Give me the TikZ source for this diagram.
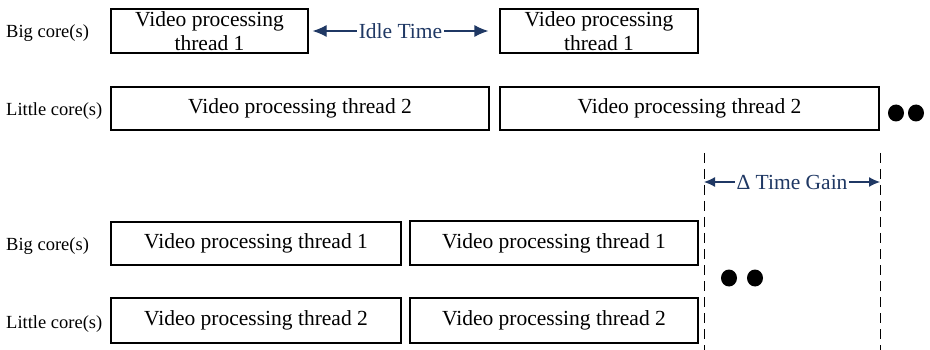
\documentclass[tikz,border=0pt]{standalone}
\usepackage{fontspec}
\setmainfont{Liberation Serif}
\usetikzlibrary{arrows.meta,shapes.geometric}
\definecolor{navy}{RGB}{31,56,100}
\begin{document}
\begin{tikzpicture}[x=1pt,y=-1pt,
  box/.style={draw, line width=1.2pt, inner sep=0pt, font=\fontsize{21.5}{24}\selectfont, align=center},
  lbl/.style={anchor=west, inner sep=0pt, font=\fontsize{18.5}{21}\selectfont},
  blackdot/.style={ellipse, fill, inner sep=0pt, minimum width=16pt, minimum height=17pt},
  navarrow/.style={draw=navy, line width=1.2pt, {Latex[length=14pt,width=12pt]}-{Latex[length=14pt,width=12pt]}},
  gainarrow/.style={draw=navy, line width=1.2pt, {Latex[length=11pt,width=10pt]}-{Latex[length=11pt,width=10pt]}},
  navtext/.style={fill=white, text=navy, inner sep=1.5pt, font=\fontsize{21.5}{24}\selectfont},
  dashline/.style={draw, line width=1pt, dash pattern=on 10pt off 6pt}
]
\useasboundingbox (0,0) rectangle (930,350);

% top section
\node[lbl] (tbig) at (6,33) {Big core(s)};
\node[lbl] (tlit) at (6,111) {Little core(s)};
\node[box, minimum width=197, minimum height=44] (tb1) at (209.5,31) {Video processing\\thread 1};
\node[box, minimum width=198, minimum height=44] (tb2) at (599,31) {Video processing\\thread 1};
\node[box, minimum width=378, minimum height=43] (tl1) at (300,108.5) {Video processing thread 2};
\node[box, minimum width=379, minimum height=43] (tl2) at (689.5,108.5) {Video processing thread 2};
\node[blackdot] (td1) at (896,113) {};
\node[blackdot] (td2) at (916,113) {};

\draw[navarrow] ([xshift=4pt]tb1.east) -- node[navtext] (idle) {Idle Time} ([xshift=-11pt]tb2.west);

% dashed markers
\coordinate (d1t) at (704,153);
\coordinate (d1b) at (704,350);
\coordinate (d2t) at (880,153);
\coordinate (d2b) at (880,350);
\draw[dashline] (d1t) -- (d1b);
\draw[dashline] (d2t) -- (d2b);
\coordinate (g1) at (704,182);
\coordinate (g2) at (880,182);
\draw[gainarrow] (g1) -- node[navtext] (gain) {Δ Time Gain} (g2);

% bottom section
\node[lbl] (bbig) at (6,246) {Big core(s)};
\node[lbl] (blit) at (6,324) {Little core(s)};
\node[box, minimum width=290, minimum height=43] (bb1) at (256,243.5) {Video processing thread 1};
\node[box, minimum width=288, minimum height=44] (bb2) at (554,243) {Video processing thread 1};
\node[box, minimum width=290, minimum height=45] (bl1) at (256,320.5) {Video processing thread 2};
\node[box, minimum width=288, minimum height=45] (bl2) at (554,320.5) {Video processing thread 2};
\node[blackdot] (bd1) at (729,278) {};
\node[blackdot] (bd2) at (755,278) {};
\end{tikzpicture}
\end{document}
